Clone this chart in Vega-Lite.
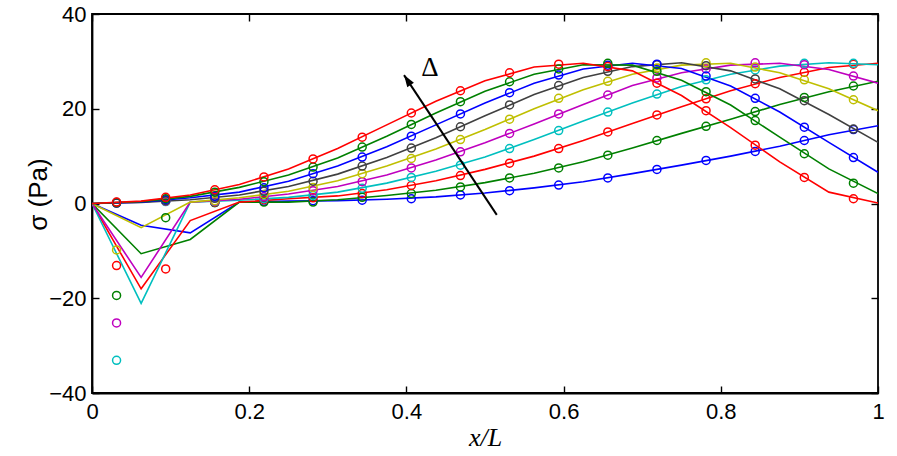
{
  "$schema": "https://vega.github.io/schema/vega-lite/v6.json",
  "description": "Stress profiles sigma (Pa) along x/L for increasing Delta",
  "width": 786,
  "height": 379,
  "autosize": {"type": "none"},
  "padding": {"left": 92, "top": 14, "right": 19, "bottom": 63},
  "background": "white",
  "config": {
    "view": {"stroke": "black", "strokeWidth": 1.8},
    "axis": {
      "grid": false,
      "domainColor": "black",
      "domainWidth": 1.8,
      "tickColor": "black",
      "tickWidth": 1.4,
      "tickSize": -7,
      "labelFlush": false,
      "labelOverlap": false,
      "labelColor": "black",
      "titleColor": "black",
      "labelFont": "Liberation Sans",
      "labelFontSize": 22
    }
  },
  "datasets": {
    "sigma": [
      {"s":1,"t":"l","x":0,"y":0},{"s":1,"t":"l","x":0.0625,"y":-4.6},{"s":1,"t":"l","x":0.125,"y":-6.2},{"s":1,"t":"l","x":0.1875,"y":0.3},{"s":1,"t":"l","x":0.25,"y":0.5},{"s":1,"t":"l","x":0.3125,"y":0.6},{"s":1,"t":"l","x":0.375,"y":0.9},{"s":1,"t":"l","x":0.4375,"y":1.4},{"s":1,"t":"l","x":0.5,"y":2.2},{"s":1,"t":"l","x":0.5625,"y":3.3},{"s":1,"t":"l","x":0.625,"y":4.6},{"s":1,"t":"l","x":0.6875,"y":6.3},{"s":1,"t":"l","x":0.75,"y":8.1},{"s":1,"t":"l","x":0.8125,"y":10.0},{"s":1,"t":"l","x":0.875,"y":12.1},{"s":1,"t":"l","x":0.9375,"y":14.5},{"s":1,"t":"l","x":1,"y":16.4},
      {"s":1,"t":"c","x":0.03125,"y":0.1},{"s":1,"t":"c","x":0.09375,"y":0.5},{"s":1,"t":"c","x":0.15625,"y":0.2},{"s":1,"t":"c","x":0.21875,"y":0.5},{"s":1,"t":"c","x":0.28125,"y":0.6},{"s":1,"t":"c","x":0.34375,"y":0.7},{"s":1,"t":"c","x":0.40625,"y":1.0},{"s":1,"t":"c","x":0.46875,"y":1.8},{"s":1,"t":"c","x":0.53125,"y":2.7},{"s":1,"t":"c","x":0.59375,"y":3.9},{"s":1,"t":"c","x":0.65625,"y":5.4},{"s":1,"t":"c","x":0.71875,"y":7.2},{"s":1,"t":"c","x":0.78125,"y":9.1},{"s":1,"t":"c","x":0.84375,"y":11.0},{"s":1,"t":"c","x":0.90625,"y":13.3},{"s":1,"t":"c","x":0.96875,"y":15.6},

      {"s":2,"t":"l","x":0,"y":0},{"s":2,"t":"l","x":0.0625,"y":-10.6},{"s":2,"t":"l","x":0.125,"y":-7.6},{"s":2,"t":"l","x":0.1875,"y":0.3},{"s":2,"t":"l","x":0.25,"y":0.3},{"s":2,"t":"l","x":0.3125,"y":0.8},{"s":2,"t":"l","x":0.375,"y":1.7},{"s":2,"t":"l","x":0.4375,"y":2.8},{"s":2,"t":"l","x":0.5,"y":4.4},{"s":2,"t":"l","x":0.5625,"y":6.4},{"s":2,"t":"l","x":0.625,"y":8.8},{"s":2,"t":"l","x":0.6875,"y":11.7},{"s":2,"t":"l","x":0.75,"y":14.8},{"s":2,"t":"l","x":0.8125,"y":17.8},{"s":2,"t":"l","x":0.875,"y":20.9},{"s":2,"t":"l","x":0.9375,"y":23.6},{"s":2,"t":"l","x":1,"y":25.8},
      {"s":2,"t":"c","x":0.03125,"y":-19.4},{"s":2,"t":"c","x":0.09375,"y":-3.0},{"s":2,"t":"c","x":0.15625,"y":0.2},{"s":2,"t":"c","x":0.21875,"y":0.3},{"s":2,"t":"c","x":0.28125,"y":0.3},{"s":2,"t":"c","x":0.34375,"y":1.3},{"s":2,"t":"c","x":0.40625,"y":2.1},{"s":2,"t":"c","x":0.46875,"y":3.5},{"s":2,"t":"c","x":0.53125,"y":5.4},{"s":2,"t":"c","x":0.59375,"y":7.5},{"s":2,"t":"c","x":0.65625,"y":10.2},{"s":2,"t":"c","x":0.71875,"y":13.3},{"s":2,"t":"c","x":0.78125,"y":16.3},{"s":2,"t":"c","x":0.84375,"y":19.4},{"s":2,"t":"c","x":0.90625,"y":22.4},{"s":2,"t":"c","x":0.96875,"y":24.8},

      {"s":3,"t":"l","x":0,"y":0},{"s":3,"t":"l","x":0.0625,"y":-18.0},{"s":3,"t":"l","x":0.125,"y":-3.6},{"s":3,"t":"l","x":0.1875,"y":0.3},{"s":3,"t":"l","x":0.25,"y":1.0},{"s":3,"t":"l","x":0.3125,"y":1.6},{"s":3,"t":"l","x":0.375,"y":2.9},{"s":3,"t":"l","x":0.4375,"y":4.8},{"s":3,"t":"l","x":0.5,"y":7.2},{"s":3,"t":"l","x":0.5625,"y":10.0},{"s":3,"t":"l","x":0.625,"y":13.3},{"s":3,"t":"l","x":0.6875,"y":16.9},{"s":3,"t":"l","x":0.75,"y":20.4},{"s":3,"t":"l","x":0.8125,"y":23.8},{"s":3,"t":"l","x":0.875,"y":26.6},{"s":3,"t":"l","x":0.9375,"y":28.7},{"s":3,"t":"l","x":1,"y":29.6},
      {"s":3,"t":"c","x":0.03125,"y":-13.1},{"s":3,"t":"c","x":0.09375,"y":-13.8},{"s":3,"t":"c","x":0.15625,"y":0.3},{"s":3,"t":"c","x":0.21875,"y":0.8},{"s":3,"t":"c","x":0.28125,"y":1.2},{"s":3,"t":"c","x":0.34375,"y":2.1},{"s":3,"t":"c","x":0.40625,"y":3.8},{"s":3,"t":"c","x":0.46875,"y":5.9},{"s":3,"t":"c","x":0.53125,"y":8.5},{"s":3,"t":"c","x":0.59375,"y":11.6},{"s":3,"t":"c","x":0.65625,"y":15.1},{"s":3,"t":"c","x":0.71875,"y":18.7},{"s":3,"t":"c","x":0.78125,"y":22.1},{"s":3,"t":"c","x":0.84375,"y":25.3},{"s":3,"t":"c","x":0.90625,"y":27.7},{"s":3,"t":"c","x":0.96875,"y":29.4},

      {"s":4,"t":"l","x":0,"y":0},{"s":4,"t":"l","x":0.0625,"y":-21.1},{"s":4,"t":"l","x":0.125,"y":0.3},{"s":4,"t":"l","x":0.1875,"y":0.7},{"s":4,"t":"l","x":0.25,"y":1.3},{"s":4,"t":"l","x":0.3125,"y":2.4},{"s":4,"t":"l","x":0.375,"y":4.3},{"s":4,"t":"l","x":0.4375,"y":6.8},{"s":4,"t":"l","x":0.5,"y":9.8},{"s":4,"t":"l","x":0.5625,"y":13.5},{"s":4,"t":"l","x":0.625,"y":17.4},{"s":4,"t":"l","x":0.6875,"y":21.2},{"s":4,"t":"l","x":0.75,"y":24.7},{"s":4,"t":"l","x":0.8125,"y":27.3},{"s":4,"t":"l","x":0.875,"y":29.0},{"s":4,"t":"l","x":0.9375,"y":29.7},{"s":4,"t":"l","x":1,"y":29.3},
      {"s":4,"t":"c","x":0.03125,"y":-33.1},{"s":4,"t":"c","x":0.09375,"y":0.4},{"s":4,"t":"c","x":0.15625,"y":0.4},{"s":4,"t":"c","x":0.21875,"y":1.0},{"s":4,"t":"c","x":0.28125,"y":1.7},{"s":4,"t":"c","x":0.34375,"y":3.2},{"s":4,"t":"c","x":0.40625,"y":5.5},{"s":4,"t":"c","x":0.46875,"y":8.1},{"s":4,"t":"c","x":0.53125,"y":11.6},{"s":4,"t":"c","x":0.59375,"y":15.4},{"s":4,"t":"c","x":0.65625,"y":19.3},{"s":4,"t":"c","x":0.71875,"y":23.1},{"s":4,"t":"c","x":0.78125,"y":26.1},{"s":4,"t":"c","x":0.84375,"y":28.2},{"s":4,"t":"c","x":0.90625,"y":29.6},{"s":4,"t":"c","x":0.96875,"y":29.6},

      {"s":5,"t":"l","x":0,"y":0},{"s":5,"t":"l","x":0.0625,"y":-15.6},{"s":5,"t":"l","x":0.125,"y":0.3},{"s":5,"t":"l","x":0.1875,"y":0.9},{"s":5,"t":"l","x":0.25,"y":2.0},{"s":5,"t":"l","x":0.3125,"y":3.6},{"s":5,"t":"l","x":0.375,"y":6.0},{"s":5,"t":"l","x":0.4375,"y":9.2},{"s":5,"t":"l","x":0.5,"y":12.8},{"s":5,"t":"l","x":0.5625,"y":16.8},{"s":5,"t":"l","x":0.625,"y":20.9},{"s":5,"t":"l","x":0.6875,"y":24.9},{"s":5,"t":"l","x":0.75,"y":27.6},{"s":5,"t":"l","x":0.8125,"y":29.2},{"s":5,"t":"l","x":0.875,"y":29.6},{"s":5,"t":"l","x":0.9375,"y":28.3},{"s":5,"t":"l","x":1,"y":25.4},
      {"s":5,"t":"c","x":0.03125,"y":-25.2},{"s":5,"t":"c","x":0.09375,"y":0.5},{"s":5,"t":"c","x":0.15625,"y":0.5},{"s":5,"t":"c","x":0.21875,"y":1.4},{"s":5,"t":"c","x":0.28125,"y":2.7},{"s":5,"t":"c","x":0.34375,"y":4.6},{"s":5,"t":"c","x":0.40625,"y":7.5},{"s":5,"t":"c","x":0.46875,"y":10.9},{"s":5,"t":"c","x":0.53125,"y":14.8},{"s":5,"t":"c","x":0.59375,"y":18.9},{"s":5,"t":"c","x":0.65625,"y":22.9},{"s":5,"t":"c","x":0.71875,"y":26.5},{"s":5,"t":"c","x":0.78125,"y":28.4},{"s":5,"t":"c","x":0.84375,"y":29.7},{"s":5,"t":"c","x":0.90625,"y":29.3},{"s":5,"t":"c","x":0.96875,"y":26.9},

      {"s":6,"t":"l","x":0,"y":0},{"s":6,"t":"l","x":0.0625,"y":-5.1},{"s":6,"t":"l","x":0.125,"y":0.3},{"s":6,"t":"l","x":0.1875,"y":1.2},{"s":6,"t":"l","x":0.25,"y":2.6},{"s":6,"t":"l","x":0.3125,"y":4.8},{"s":6,"t":"l","x":0.375,"y":7.9},{"s":6,"t":"l","x":0.4375,"y":11.5},{"s":6,"t":"l","x":0.5,"y":15.6},{"s":6,"t":"l","x":0.5625,"y":20.0},{"s":6,"t":"l","x":0.625,"y":24.0},{"s":6,"t":"l","x":0.6875,"y":27.3},{"s":6,"t":"l","x":0.75,"y":29.2},{"s":6,"t":"l","x":0.8125,"y":29.6},{"s":6,"t":"l","x":0.875,"y":27.6},{"s":6,"t":"l","x":0.9375,"y":24.2},{"s":6,"t":"l","x":1,"y":19.6},
      {"s":6,"t":"c","x":0.03125,"y":-9.8},{"s":6,"t":"c","x":0.09375,"y":0.6},{"s":6,"t":"c","x":0.15625,"y":0.6},{"s":6,"t":"c","x":0.21875,"y":1.9},{"s":6,"t":"c","x":0.28125,"y":3.4},{"s":6,"t":"c","x":0.34375,"y":6.3},{"s":6,"t":"c","x":0.40625,"y":9.5},{"s":6,"t":"c","x":0.46875,"y":13.5},{"s":6,"t":"c","x":0.53125,"y":17.8},{"s":6,"t":"c","x":0.59375,"y":22.2},{"s":6,"t":"c","x":0.65625,"y":25.8},{"s":6,"t":"c","x":0.71875,"y":28.6},{"s":6,"t":"c","x":0.78125,"y":29.7},{"s":6,"t":"c","x":0.84375,"y":28.8},{"s":6,"t":"c","x":0.90625,"y":26.1},{"s":6,"t":"c","x":0.96875,"y":21.9},

      {"s":7,"t":"l","x":0,"y":0},{"s":7,"t":"l","x":0.0625,"y":0.2},{"s":7,"t":"l","x":0.125,"y":0.8},{"s":7,"t":"l","x":0.1875,"y":1.8},{"s":7,"t":"l","x":0.25,"y":3.6},{"s":7,"t":"l","x":0.3125,"y":6.2},{"s":7,"t":"l","x":0.375,"y":9.7},{"s":7,"t":"l","x":0.4375,"y":13.9},{"s":7,"t":"l","x":0.5,"y":18.5},{"s":7,"t":"l","x":0.5625,"y":23.0},{"s":7,"t":"l","x":0.625,"y":26.6},{"s":7,"t":"l","x":0.6875,"y":28.9},{"s":7,"t":"l","x":0.75,"y":29.7},{"s":7,"t":"l","x":0.8125,"y":28.0},{"s":7,"t":"l","x":0.875,"y":24.2},{"s":7,"t":"l","x":0.9375,"y":18.8},{"s":7,"t":"l","x":1,"y":12.9},
      {"s":7,"t":"c","x":0.03125,"y":0.1},{"s":7,"t":"c","x":0.09375,"y":0.6},{"s":7,"t":"c","x":0.15625,"y":1.1},{"s":7,"t":"c","x":0.21875,"y":2.6},{"s":7,"t":"c","x":0.28125,"y":4.7},{"s":7,"t":"c","x":0.34375,"y":7.9},{"s":7,"t":"c","x":0.40625,"y":11.7},{"s":7,"t":"c","x":0.46875,"y":16.2},{"s":7,"t":"c","x":0.53125,"y":20.8},{"s":7,"t":"c","x":0.59375,"y":24.9},{"s":7,"t":"c","x":0.65625,"y":27.9},{"s":7,"t":"c","x":0.71875,"y":29.3},{"s":7,"t":"c","x":0.78125,"y":29.1},{"s":7,"t":"c","x":0.84375,"y":26.3},{"s":7,"t":"c","x":0.90625,"y":21.7},{"s":7,"t":"c","x":0.96875,"y":15.7},

      {"s":8,"t":"l","x":0,"y":0},{"s":8,"t":"l","x":0.0625,"y":0.3},{"s":8,"t":"l","x":0.125,"y":1.2},{"s":8,"t":"l","x":0.1875,"y":2.4},{"s":8,"t":"l","x":0.25,"y":4.7},{"s":8,"t":"l","x":0.3125,"y":7.9},{"s":8,"t":"l","x":0.375,"y":12.0},{"s":8,"t":"l","x":0.4375,"y":16.6},{"s":8,"t":"l","x":0.5,"y":21.2},{"s":8,"t":"l","x":0.5625,"y":25.4},{"s":8,"t":"l","x":0.625,"y":28.4},{"s":8,"t":"l","x":0.6875,"y":29.6},{"s":8,"t":"l","x":0.75,"y":28.5},{"s":8,"t":"l","x":0.8125,"y":24.8},{"s":8,"t":"l","x":0.875,"y":19.3},{"s":8,"t":"l","x":0.9375,"y":12.9},{"s":8,"t":"l","x":1,"y":6.6},
      {"s":8,"t":"c","x":0.03125,"y":0.2},{"s":8,"t":"c","x":0.09375,"y":0.8},{"s":8,"t":"c","x":0.15625,"y":1.5},{"s":8,"t":"c","x":0.21875,"y":3.3},{"s":8,"t":"c","x":0.28125,"y":6.3},{"s":8,"t":"c","x":0.34375,"y":9.8},{"s":8,"t":"c","x":0.40625,"y":14.2},{"s":8,"t":"c","x":0.46875,"y":18.9},{"s":8,"t":"c","x":0.53125,"y":23.4},{"s":8,"t":"c","x":0.59375,"y":27.1},{"s":8,"t":"c","x":0.65625,"y":29.2},{"s":8,"t":"c","x":0.71875,"y":29.4},{"s":8,"t":"c","x":0.78125,"y":26.9},{"s":8,"t":"c","x":0.84375,"y":22.2},{"s":8,"t":"c","x":0.90625,"y":16.1},{"s":8,"t":"c","x":0.96875,"y":9.7},

      {"s":9,"t":"l","x":0,"y":0},{"s":9,"t":"l","x":0.0625,"y":0.4},{"s":9,"t":"l","x":0.125,"y":1.5},{"s":9,"t":"l","x":0.1875,"y":3.4},{"s":9,"t":"l","x":0.25,"y":6.0},{"s":9,"t":"l","x":0.3125,"y":9.6},{"s":9,"t":"l","x":0.375,"y":14.2},{"s":9,"t":"l","x":0.4375,"y":19.1},{"s":9,"t":"l","x":0.5,"y":23.7},{"s":9,"t":"l","x":0.5625,"y":27.3},{"s":9,"t":"l","x":0.625,"y":29.3},{"s":9,"t":"l","x":0.6875,"y":29.2},{"s":9,"t":"l","x":0.75,"y":26.0},{"s":9,"t":"l","x":0.8125,"y":20.8},{"s":9,"t":"l","x":0.875,"y":14.0},{"s":9,"t":"l","x":0.9375,"y":7.3},{"s":9,"t":"l","x":1,"y":2.1},
      {"s":9,"t":"c","x":0.03125,"y":0.2},{"s":9,"t":"c","x":0.09375,"y":1.0},{"s":9,"t":"c","x":0.15625,"y":2.4},{"s":9,"t":"c","x":0.21875,"y":4.6},{"s":9,"t":"c","x":0.28125,"y":7.7},{"s":9,"t":"c","x":0.34375,"y":11.9},{"s":9,"t":"c","x":0.40625,"y":16.7},{"s":9,"t":"c","x":0.46875,"y":21.5},{"s":9,"t":"c","x":0.53125,"y":25.7},{"s":9,"t":"c","x":0.59375,"y":28.4},{"s":9,"t":"c","x":0.65625,"y":29.6},{"s":9,"t":"c","x":0.71875,"y":27.9},{"s":9,"t":"c","x":0.78125,"y":23.6},{"s":9,"t":"c","x":0.84375,"y":17.5},{"s":9,"t":"c","x":0.90625,"y":10.5},{"s":9,"t":"c","x":0.96875,"y":4.3},

      {"s":10,"t":"l","x":0,"y":0},{"s":10,"t":"l","x":0.0625,"y":0.5},{"s":10,"t":"l","x":0.125,"y":1.8},{"s":10,"t":"l","x":0.1875,"y":4.0},{"s":10,"t":"l","x":0.25,"y":7.3},{"s":10,"t":"l","x":0.3125,"y":11.6},{"s":10,"t":"l","x":0.375,"y":16.6},{"s":10,"t":"l","x":0.4375,"y":21.6},{"s":10,"t":"l","x":0.5,"y":25.9},{"s":10,"t":"l","x":0.5625,"y":28.8},{"s":10,"t":"l","x":0.625,"y":29.6},{"s":10,"t":"l","x":0.6875,"y":28.0},{"s":10,"t":"l","x":0.75,"y":22.8},{"s":10,"t":"l","x":0.8125,"y":16.0},{"s":10,"t":"l","x":0.875,"y":8.8},{"s":10,"t":"l","x":0.9375,"y":2.4},{"s":10,"t":"l","x":1,"y":0.1},
      {"s":10,"t":"c","x":0.03125,"y":0.3},{"s":10,"t":"c","x":0.09375,"y":1.3},{"s":10,"t":"c","x":0.15625,"y":2.9},{"s":10,"t":"c","x":0.21875,"y":5.6},{"s":10,"t":"c","x":0.28125,"y":9.4},{"s":10,"t":"c","x":0.34375,"y":14.0},{"s":10,"t":"c","x":0.40625,"y":19.1},{"s":10,"t":"c","x":0.46875,"y":23.8},{"s":10,"t":"c","x":0.53125,"y":27.6},{"s":10,"t":"c","x":0.59375,"y":29.4},{"s":10,"t":"c","x":0.65625,"y":28.9},{"s":10,"t":"c","x":0.71875,"y":25.4},{"s":10,"t":"c","x":0.78125,"y":19.6},{"s":10,"t":"c","x":0.84375,"y":12.3},{"s":10,"t":"c","x":0.90625,"y":5.5},{"s":10,"t":"c","x":0.96875,"y":1.0}
    ]
  },
  "layer": [
    {
      "data": {"name": "sigma"},
      "transform": [{"filter": "datum.t == 'l'"}],
      "mark": {"type": "line", "strokeWidth": 1.6, "clip": true},
      "encoding": {
        "x": {
          "field": "x", "type": "quantitative",
          "scale": {"domain": [0, 1], "nice": false},
          "axis": {
            "orient": "bottom",
            "values": [0, 0.2, 0.4, 0.6, 0.8, 1],
            "format": "~g",
            "labelPadding": 15,
            "title": "x/L",
            "titleFont": "Liberation Serif",
            "titleFontStyle": "italic",
            "titleFontWeight": "normal",
            "titleFontSize": 26,
            "titleY": 44,
            "titleBaseline": "middle"
          }
        },
        "y": {
          "field": "y", "type": "quantitative",
          "scale": {"domain": [-40, 40], "nice": false},
          "axis": {
            "orient": "left",
            "values": [-40, -20, 0, 20, 40],
            "labelPadding": 13,
            "title": "σ (Pa)",
            "titleFont": "Liberation Sans",
            "titleFontWeight": "normal",
            "titleFontSize": 26,
            "titleX": -54,
            "titleY": 180,
            "titleBaseline": "middle"
          }
        },
        "color": {
          "field": "s", "type": "ordinal",
          "scale": {
            "domain": [1, 2, 3, 4, 5, 6, 7, 8, 9, 10],
            "range": ["#0000ff", "#008000", "#ff0000", "#00bfbf", "#bf00bf", "#bfbf00", "#404040", "#0000ff", "#008000", "#ff0000"]
          },
          "legend": null
        }
      }
    },
    {
      "data": {"name": "sigma"},
      "transform": [{"filter": "datum.t == 'c'"}],
      "mark": {"type": "point", "filled": false, "size": 64, "strokeWidth": 1.5, "opacity": 1, "clip": true},
      "encoding": {
        "x": {
          "field": "x", "type": "quantitative",
          "axis": {"orient": "top", "values": [0, 0.2, 0.4, 0.6, 0.8, 1], "labels": false, "title": null, "domain": false}
        },
        "y": {
          "field": "y", "type": "quantitative",
          "axis": {"orient": "right", "values": [-40, -20, 0, 20, 40], "labels": false, "title": null, "domain": false}
        },
        "color": {"field": "s", "type": "ordinal", "legend": null}
      }
    },
    {
      "data": {"values": [{"x": 0.515, "y": -2.4, "x2": 0.397, "y2": 27.1}]},
      "mark": {"type": "rule", "color": "black", "strokeWidth": 2},
      "encoding": {
        "x": {"field": "x", "type": "quantitative", "axis": null},
        "y": {"field": "y", "type": "quantitative", "axis": null},
        "x2": {"field": "x2"},
        "y2": {"field": "y2"}
      }
    },
    {
      "data": {"values": [{"x": 0.397, "y": 27.1}]},
      "mark": {"type": "point", "shape": "M0,0L-0.42,1.25L0.42,1.25Z", "filled": true, "color": "black", "opacity": 1, "size": 360, "angle": -33.5},
      "encoding": {
        "x": {"field": "x", "type": "quantitative", "axis": null},
        "y": {"field": "y", "type": "quantitative", "axis": null}
      }
    },
    {
      "data": {"values": [{"x": 0.43, "y": 28.6, "label": "Δ"}]},
      "mark": {"type": "text", "font": "Liberation Serif", "fontSize": 27, "color": "black"},
      "encoding": {
        "x": {"field": "x", "type": "quantitative", "axis": null},
        "y": {"field": "y", "type": "quantitative", "axis": null},
        "text": {"field": "label"}
      }
    }
  ],
  "resolve": {"axis": {"x": "independent", "y": "independent"}}
}
